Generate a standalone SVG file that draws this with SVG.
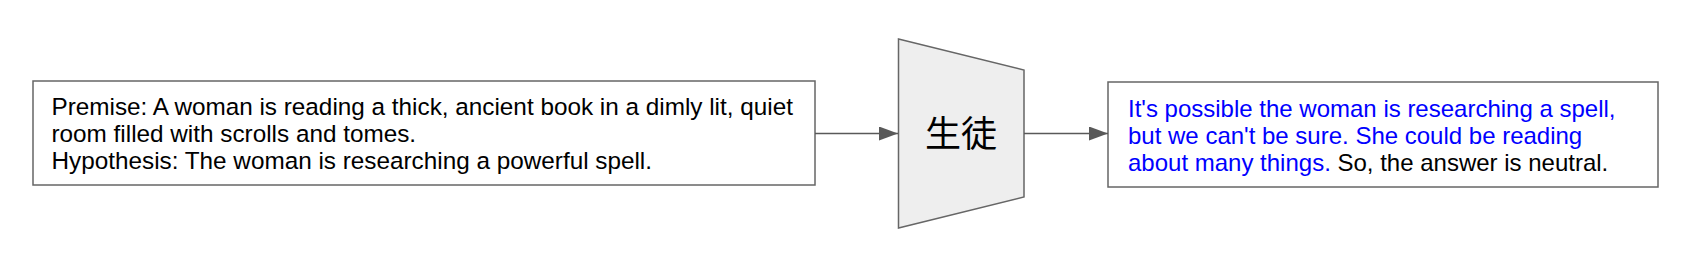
<svg xmlns="http://www.w3.org/2000/svg" width="1688" height="264" viewBox="0 0 1688 264">
<style>
.box{fill:#fff;stroke:#666;stroke-width:1.5}
.t{font-family:"Liberation Sans",Arial,sans-serif;font-size:24px;fill:#000}
.l{font-size:24.3px}
.b{fill:#0000ff}
.conn{stroke:#595959;stroke-width:1.5;fill:none}
</style>
<defs>
<marker id="ah" markerWidth="20" markerHeight="14" refX="19" refY="7" orient="auto" markerUnits="userSpaceOnUse">
<path d="M0,0 L19,7 L0,14 Z" fill="#595959"/>
</marker>
</defs>
<rect width="1688" height="264" fill="#fff"/>
<g id="premise">
<rect class="box" x="33" y="81" width="782" height="104"/>
<text class="t l" x="51.5" y="114.5">Premise: A woman is reading a thick, ancient book in a dimly lit, quiet</text>
<text class="t l" x="51.5" y="141.5">room filled with scrolls and tomes.</text>
<text class="t l" x="51.5" y="168.5">Hypothesis: The woman is researching a powerful spell.</text>
</g>
<g id="student">
<path d="M898.5,39 L1024,70 L1024,197 L898.5,228 Z" fill="#eeeeee" stroke="#666" stroke-width="1.5"/>
<text x="961" y="131" font-family="'Noto Sans CJK JP','Noto Sans CJK SC',sans-serif" font-size="36" text-anchor="middle" dominant-baseline="central" fill="#000">生徒</text>
</g>
<g id="answer">
<rect class="box" x="1108" y="82" width="550" height="105"/>
<text class="t b" x="1128" y="116.5">It's possible the woman is researching a spell,</text>
<text class="t b" x="1128" y="143.5">but we can't be sure. She could be reading</text>
<text class="t" x="1128" y="170.5"><tspan class="b">about many things.</tspan> So, the answer is neutral.</text>
</g>
<g id="connectors">
<line class="conn" x1="815" y1="133.5" x2="898" y2="133.5" marker-end="url(#ah)"/>
<line class="conn" x1="1024" y1="133.5" x2="1108" y2="133.5" marker-end="url(#ah)"/>
</g>
</svg>
